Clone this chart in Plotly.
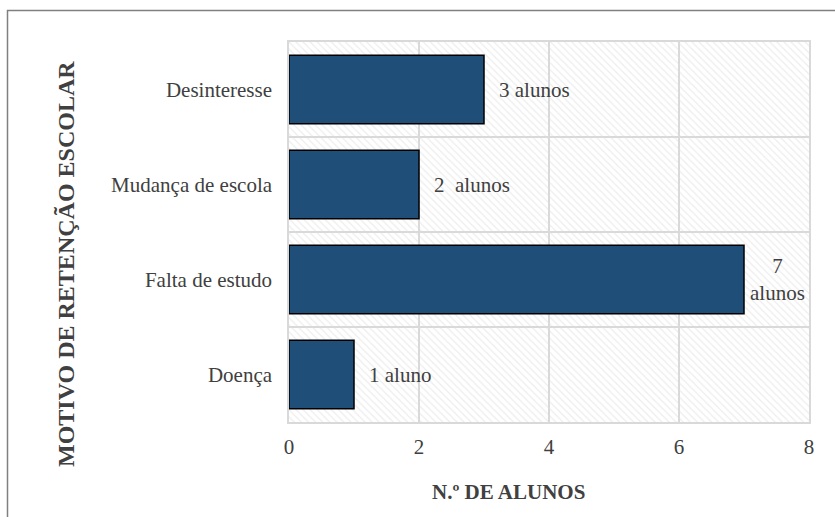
import plotly.graph_objects as go

categories = ["Doença", "Falta de estudo", "Mudança de escola", "Desinteresse"]
values = [1, 7, 2, 3]
labels = ["1 aluno", "7<br>alunos", "2  alunos", "3 alunos"]
x_ticks = [0, 2, 4, 6, 8]

FONT = "Liberation Serif, Times New Roman, serif"
TXT = "#404040"
GRID = "#d9d9d9"
x_max = x_ticks[-1]
n = len(categories)
idx = list(range(n))

fig = go.Figure()
# hatched plot-area background
fig.add_trace(go.Bar(
    x=[x_max], y=[(n - 1) / 2], width=[n], orientation="h",
    marker=dict(color="rgba(0,0,0,0)", line=dict(width=0),
                pattern=dict(shape="\\", fgcolor="#dcdcdc", bgcolor="rgba(0,0,0,0)",
                             size=5, solidity=0.25)),
    hoverinfo="skip", showlegend=False))
fig.add_trace(go.Bar(
    x=values, y=idx, orientation="h", width=0.72,
    marker=dict(color="#1F4E79", line=dict(color="#000000", width=1.5)),
    showlegend=False))

for v, i, t in zip(values, idx, labels):
    multi = "<br>" in t
    fig.add_annotation(x=v, y=i, xref="x", yref="y", text=t, showarrow=False,
                       xanchor="left", yanchor="middle", align="center",
                       xshift=4 if multi else 13,
                       font=dict(family=FONT, size=21, color=TXT))

W, H = 835, 517
L, R, T, B = 289, 26, 42, 95
pw, ph = W - L - R, H - T - B

def px(xp):
    return (xp - L) / pw

def py(yp):
    return (H - B - yp) / ph

fig.add_annotation(text="<b>MOTIVO DE RETENÇÃO ESCOLAR</b>", xref="paper", yref="paper",
                   x=px(66), y=py(264), textangle=-90, showarrow=False,
                   xanchor="center", yanchor="middle",
                   font=dict(family=FONT, size=24, color=TXT))
fig.add_annotation(text="<b>N.º DE ALUNOS</b>", xref="paper", yref="paper",
                   x=px(508), y=py(492), showarrow=False,
                   xanchor="center", yanchor="middle",
                   font=dict(family=FONT, size=21, color=TXT))

fig.add_shape(type="rect", xref="paper", yref="paper",
              x0=px(7.5), x1=px(900), y0=py(600), y1=py(10.5),
              line=dict(color="#808080", width=1.5), layer="below")

fig.update_layout(
    width=W, height=H, margin=dict(l=L, r=R, t=T, b=B),
    paper_bgcolor="white", plot_bgcolor="white", barmode="overlay",
    font=dict(family=FONT, size=21, color=TXT),
    xaxis=dict(range=[0, x_max], tickvals=x_ticks, showgrid=True, gridcolor=GRID,
               gridwidth=1.5, zeroline=False, showline=True, linecolor=GRID, linewidth=1.5,
               mirror=True, ticks="", ticklabelstandoff=5,
               tickfont=dict(family=FONT, size=21, color=TXT)),
    yaxis=dict(range=[-0.5, n - 0.5], tickvals=idx, ticktext=categories, showgrid=False,
               zeroline=False, showline=True, linecolor=GRID, linewidth=1.5, mirror=True,
               ticks="", ticklabelstandoff=11,
               minor=dict(tickvals=[i - 0.5 for i in range(n + 1)], showgrid=True,
                          gridcolor=GRID, gridwidth=1.5, ticks=""),
               tickfont=dict(family=FONT, size=21, color=TXT)),
)

fig.write_html("out.html")
